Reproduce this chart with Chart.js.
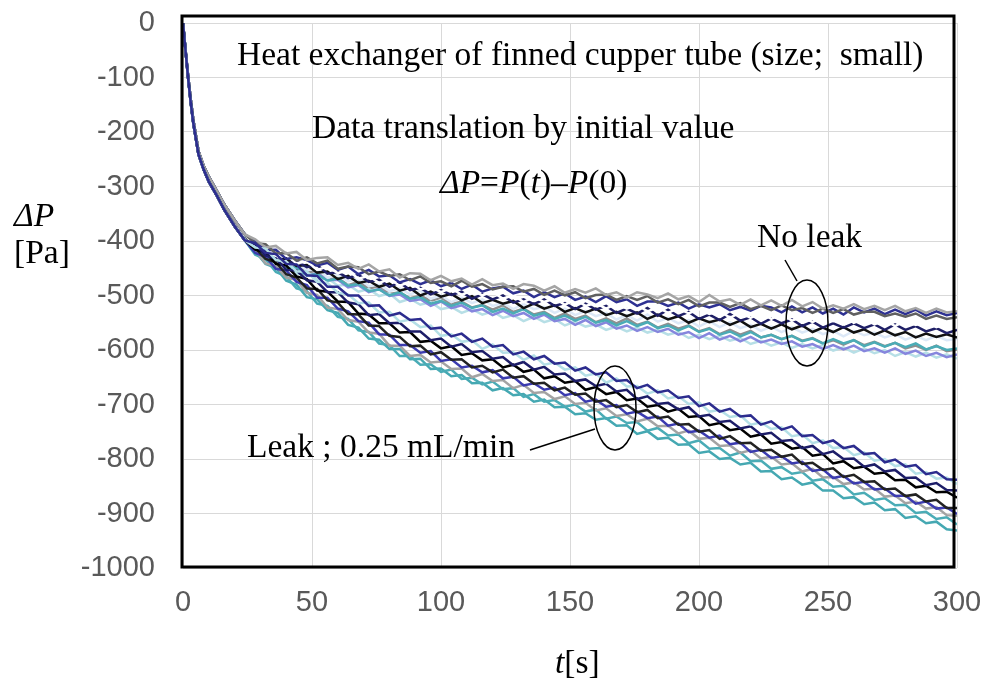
<!DOCTYPE html>
<html>
<head>
<meta charset="utf-8">
<script src="https://cdn.jsdelivr.net/npm/chart.js@4.4.1/dist/chart.umd.min.js"></script>
<style>
  body { margin: 0; background: #fff; }
  #wrap { width: 989px; height: 684px; position: relative; }
</style>
</head>
<body>
<div id="wrap"><canvas id="chart"></canvas></div>
<script>
// time axis [s]
const earlyTimes = [0, 1, 2, 3, 4, 6, 8, 10, 13, 16, 20, 24];
const lateTimes = [
  28, 32, 36, 40, 44, 48, 52, 56, 60, 64,
  68, 72, 76, 80, 84, 88, 92, 96, 100, 104,
  108, 112, 116, 120, 124, 128, 132, 136, 140, 144,
  148, 152, 156, 160, 164, 168, 172, 176, 180, 184,
  188, 192, 196, 200, 204, 208, 212, 216, 220, 224,
  228, 232, 236, 240, 244, 248, 252, 256, 260, 264,
  268, 272, 276, 280, 284, 288, 292, 296, 300,
];

// first seconds, runs fall almost together
const earlyNoLeak = [0, -50, -98, -140, -178, -235, -262, -282, -307, -333, -362, -388];
const earlyLeak = [0, -52, -102, -146, -184, -241, -269, -291, -316, -343, -373, -399];

// no leak runs (after 28 s)
const noLeak1 = [
  -397, -412, -409, -423, -420, -435, -431, -430, -444, -440,
  -451, -443, -456, -452, -467, -459, -460, -472, -464, -474,
  -469, -480, -470, -481, -478, -488, -479, -482, -491, -483,
  -495, -488, -495, -487, -499, -494, -504, -494, -498, -505,
  -496, -507, -501, -512, -499, -511, -507, -517, -507, -518,
  -509, -519, -508, -520, -512, -524, -518, -524, -516, -525,
  -519, -527, -519, -529, -523, -532, -524, -531, -529,
];
const noLeak2 = [
  -404, -406, -423, -422, -436, -430, -441, -436, -451, -447,
  -448, -461, -456, -464, -461, -472, -465, -477, -474, -483,
  -473, -484, -479, -489, -484, -483, -493, -488, -499, -491,
  -500, -494, -505, -499, -498, -508, -501, -508, -501, -513,
  -507, -516, -508, -520, -513, -513, -521, -514, -525, -519,
  -527, -518, -527, -523, -532, -524, -532, -525, -535, -530,
  -530, -538, -533, -539, -533, -543, -537, -543, -540,
];
const noLeak3 = [
  -401, -417, -416, -433, -430, -435, -445, -440, -453, -447,
  -461, -453, -465, -463, -476, -470, -479, -472, -483, -477,
  -488, -480, -493, -487, -484, -496, -491, -503, -494, -503,
  -496, -508, -502, -512, -501, -512, -507, -519, -511, -511,
  -519, -513, -524, -516, -522, -516, -527, -521, -528, -519,
  -522, -531, -520, -531, -522, -533, -524, -535, -522, -531,
  -524, -534, -526, -534, -526, -537, -529, -536, -532,
];
const noLeak4 = [
  -410, -411, -430, -425, -441, -437, -453, -447, -459, -454,
  -469, -464, -477, -470, -482, -475, -489, -484, -494, -486,
  -499, -490, -500, -493, -506, -499, -512, -502, -512, -505,
  -517, -507, -519, -514, -524, -515, -524, -517, -529, -522,
  -532, -523, -533, -525, -534, -528, -541, -531, -541, -532,
  -543, -534, -546, -539, -549, -539, -547, -538, -550, -542,
  -553, -545, -556, -546, -554, -548, -558, -551, -557,
];
const noLeak5 = [
  -405, -424, -425, -441, -437, -448, -444, -460, -457, -468,
  -462, -475, -471, -484, -476, -490, -486, -498, -490, -499,
  -493, -506, -498, -507, -500, -513, -507, -516, -507, -519,
  -514, -525, -515, -526, -519, -532, -524, -533, -523, -537,
  -526, -538, -530, -543, -535, -545, -534, -546, -540, -552,
  -542, -551, -544, -556, -548, -559, -551, -559, -551, -560,
  -553, -563, -553, -563, -556, -566, -560, -569, -563,
];
const noLeak6 = [
  -415, -418, -436, -432, -446, -444, -458, -456, -470, -464,
  -477, -473, -484, -478, -491, -486, -500, -493, -502, -497,
  -509, -501, -514, -508, -515, -510, -523, -515, -524, -518,
  -530, -523, -531, -524, -536, -530, -538, -531, -543, -535,
  -544, -538, -550, -542, -549, -544, -554, -546, -558, -552,
  -561, -553, -562, -555, -567, -559, -567, -558, -568, -562,
  -572, -564, -573, -567, -577, -570, -576, -571, -577,
];
const noLeak7 = [
  -408, -426, -428, -446, -441, -453, -452, -467, -461, -474,
  -469, -483, -480, -492, -487, -498, -491, -506, -500, -512,
  -504, -514, -507, -519, -514, -525, -516, -525, -521, -532,
  -524, -536, -528, -538, -532, -544, -536, -546, -535, -548,
  -541, -551, -545, -557, -547, -558, -549, -560, -554, -565,
  -557, -567, -558, -568, -561, -571, -565, -575, -565, -573,
  -568, -577, -571, -581, -574, -582, -574, -582, -580,
];
const noLeak8 = [
  -415, -433, -433, -449, -448, -463, -461, -473, -469, -482,
  -479, -492, -489, -500, -494, -506, -503, -515, -510, -519,
  -513, -523, -518, -530, -524, -533, -525, -537, -532, -543,
  -537, -546, -539, -550, -545, -555, -547, -556, -549, -560,
  -555, -564, -556, -567, -561, -572, -566, -575, -567, -577,
  -572, -580, -574, -584, -579, -588, -580, -588, -582, -593,
  -586, -594, -587, -595, -588, -599, -593, -600, -597,
];
const noLeak9 = [
  -411, -431, -431, -448, -448, -464, -459, -472, -471, -485,
  -481, -494, -488, -501, -498, -510, -507, -519, -511, -523,
  -518, -529, -525, -536, -528, -538, -532, -543, -535, -547,
  -543, -554, -545, -556, -549, -561, -555, -565, -558, -567,
  -561, -572, -567, -578, -569, -581, -574, -584, -576, -586,
  -581, -589, -584, -594, -589, -598, -591, -599, -592, -602,
  -597, -605, -597, -607, -601, -611, -605, -613, -608,
];
const noLeak10 = [
  -423, -426, -445, -443, -461, -459, -471, -468, -482, -480,
  -493, -488, -501, -496, -512, -506, -517, -512, -525, -521,
  -532, -525, -535, -529, -541, -536, -547, -539, -549, -543,
  -555, -548, -557, -553, -563, -557, -566, -559, -568, -563,
  -572, -567, -578, -572, -580, -574, -583, -578, -589, -583,
  -592, -586, -596, -589, -597, -591, -601, -595, -605, -597,
  -606, -600, -611, -604, -612, -605, -614, -608, -616,
];
const noLeak11 = [
  -409, -430, -432, -448, -445, -458, -454, -470, -468, -481,
  -475, -487, -483, -497, -494, -505, -500, -510, -504, -516,
  -511, -522, -517, -526, -518, -530, -524, -535, -530, -541,
  -533, -543, -537, -549, -542, -551, -542, -554, -548, -559,
  -552, -561, -555, -566, -560, -571, -563, -572, -565, -577,
  -572, -580, -574, -583, -578, -588, -582, -590, -582, -591,
  -585, -593, -587, -597, -592, -600, -592, -602, -599,
];

// leak 0.25 mL/min runs (after 28 s)
const leak1 = [
  -404, -422, -424, -442, -443, -463, -464, -484, -484, -500,
  -500, -519, -518, -537, -532, -545, -543, -561, -559, -575,
  -570, -585, -579, -594, -591, -608, -603, -617, -611, -625,
  -623, -638, -632, -645, -641, -657, -655, -670, -664, -678,
  -674, -688, -685, -703, -698, -713, -708, -722, -720, -737,
  -731, -746, -740, -758, -756, -771, -766, -780, -776, -791,
  -789, -806, -801, -814, -811, -828, -824, -837, -838,
];
const leak2 = [
  -412, -414, -435, -438, -456, -456, -475, -477, -495, -498,
  -514, -513, -531, -530, -548, -544, -558, -555, -574, -571,
  -585, -582, -598, -590, -605, -604, -618, -610, -627, -623,
  -636, -632, -647, -643, -660, -652, -667, -666, -680, -674,
  -689, -685, -699, -696, -713, -710, -723, -720, -737, -733,
  -745, -742, -758, -755, -771, -766, -780, -778, -793, -788,
  -803, -800, -813, -810, -827, -824, -836, -834, -846,
];
const leak3 = [
  -406, -427, -432, -453, -454, -472, -475, -494, -494, -513,
  -516, -536, -534, -551, -550, -566, -566, -582, -579, -594,
  -589, -604, -602, -616, -613, -628, -622, -636, -631, -645,
  -643, -657, -654, -666, -662, -676, -673, -690, -685, -699,
  -697, -709, -705, -722, -719, -732, -730, -744, -740, -755,
  -752, -767, -765, -780, -776, -791, -786, -800, -799, -814,
  -810, -823, -820, -835, -834, -848, -844, -857, -858,
];
const leak4 = [
  -416, -421, -442, -445, -465, -470, -491, -493, -511, -512,
  -533, -535, -551, -551, -568, -567, -585, -583, -597, -593,
  -609, -606, -619, -617, -632, -627, -640, -636, -652, -648,
  -660, -657, -673, -668, -681, -677, -692, -689, -704, -701,
  -713, -708, -723, -721, -738, -734, -747, -744, -759, -755,
  -772, -769, -781, -778, -794, -791, -808, -804, -817, -814,
  -827, -825, -839, -838, -852, -849, -861, -860, -871,
];
const leak5 = [
  -413, -433, -439, -461, -467, -487, -488, -509, -513, -534,
  -535, -555, -556, -574, -576, -593, -592, -608, -604, -618,
  -617, -632, -629, -641, -636, -651, -648, -662, -660, -674,
  -669, -682, -680, -695, -692, -705, -701, -714, -710, -725,
  -722, -737, -736, -750, -747, -763, -758, -771, -770, -785,
  -783, -796, -792, -809, -807, -820, -817, -833, -829, -842,
  -841, -856, -854, -868, -865, -878, -875, -890, -890,
];
const leak6 = [
  -422, -429, -451, -454, -475, -481, -504, -504, -524, -529,
  -547, -550, -571, -572, -591, -591, -605, -602, -620, -617,
  -632, -629, -641, -637, -652, -649, -665, -661, -673, -669,
  -683, -679, -695, -691, -704, -701, -717, -713, -725, -722,
  -739, -735, -751, -748, -761, -757, -773, -770, -787, -783,
  -798, -795, -808, -805, -822, -819, -835, -831, -845, -842,
  -856, -854, -868, -867, -882, -878, -891, -889, -901,
];
const leak7 = [
  -417, -441, -446, -467, -471, -495, -499, -522, -525, -545,
  -548, -568, -570, -592, -592, -611, -609, -623, -621, -635,
  -634, -650, -644, -657, -655, -670, -664, -679, -677, -690,
  -685, -699, -697, -711, -707, -721, -718, -731, -726, -740,
  -739, -753, -748, -763, -761, -776, -775, -789, -784, -799,
  -796, -810, -808, -823, -818, -834, -833, -846, -843, -856,
  -854, -869, -867, -881, -878, -891, -888, -903, -904,
];
const leak8 = [
  -425, -433, -457, -465, -487, -492, -515, -519, -539, -543,
  -564, -567, -588, -591, -611, -611, -627, -626, -640, -636,
  -653, -651, -663, -658, -672, -670, -686, -681, -695, -692,
  -704, -700, -713, -709, -726, -722, -734, -732, -748, -743,
  -757, -755, -771, -766, -781, -780, -794, -788, -804, -803,
  -818, -815, -827, -824, -840, -837, -851, -849, -865, -862,
  -875, -872, -885, -884, -899, -897, -910, -907, -920,
];
const leak9 = [
  -419, -442, -449, -473, -480, -503, -507, -527, -532, -554,
  -559, -579, -581, -598, -598, -617, -616, -635, -634, -648,
  -646, -661, -660, -674, -670, -683, -681, -695, -691, -705,
  -704, -718, -716, -728, -725, -739, -738, -754, -749, -763,
  -761, -774, -773, -789, -786, -800, -798, -810, -807, -823,
  -822, -837, -834, -847, -843, -858, -858, -872, -870, -883,
  -880, -894, -892, -908, -905, -918, -915, -929, -931,
];

const noLeakRuns = [noLeak1, noLeak2, noLeak3, noLeak4, noLeak5, noLeak6, noLeak7, noLeak8, noLeak9, noLeak10, noLeak11];
const noLeakColors = ["#a5a5a5", "#606060", "#2e3192", "#ffffff", "#1f1f66", "#111111", "#dce8f7", "#4bacb6", "#8686dd", "#b7dfe6", "#8f8f8f"];
const leakRuns = [leak1, leak2, leak3, leak4, leak5, leak6, leak7, leak8, leak9];
const leakColors = ["#2c2c8e", "#b4dfe6", "#1d1d68", "#000000", "#222222", "#3b3bb0", "#a3a3a3", "#4aacb6", "#45a8b2"];

const times = earlyTimes.concat(lateTimes);

function makeDataset(start, run, color) {
  const values = start.concat(run);
  return {
    data: times.map((t, i) => ({ x: t, y: values[i] })),
    borderColor: color,
    borderWidth: 2.5,
    pointRadius: 0,
    tension: 0,
    fill: false,
  };
}

const datasets = [];
leakRuns.forEach((run, i) => datasets.push(makeDataset(earlyLeak, run, leakColors[i])));
noLeakRuns.forEach((run, i) => datasets.push(makeDataset(earlyNoLeak, run, noLeakColors[i])));

// draw text segments one after another, some italic
function drawSegments(ctx, x, y, parts, size) {
  let cx = x;
  parts.forEach((p) => {
    ctx.font = (p[1] ? "italic " : "") + size + "px 'Liberation Serif', 'Times New Roman', serif";
    ctx.fillText(p[0], cx, y);
    cx += ctx.measureText(p[0]).width;
  });
}

// frame, notes, ellipses and axis titles
const notesPlugin = {
  id: "notes",
  afterDraw(chart) {
    const ctx = chart.ctx;
    const a = chart.chartArea;
    ctx.save();
    ctx.strokeStyle = "#000";
    ctx.lineWidth = 3;
    ctx.strokeRect(a.left - 1, a.top - 7, a.right - a.left - 2, a.bottom - a.top + 6);

    ctx.fillStyle = "#000";
    ctx.textAlign = "left";
    ctx.textBaseline = "alphabetic";
    const fs = 33.5;
    drawSegments(ctx, 237, 65, [["Heat exchanger of finned cupper tube (size;  small)", false]], fs);
    drawSegments(ctx, 312, 138, [["Data translation by initial value", false]], fs);
    drawSegments(ctx, 440, 193, [["\u0394P", true], ["=", false], ["P", true], ["(", false], ["t", true], [")\u2013", false], ["P", true], ["(0)", false]], fs);
    drawSegments(ctx, 757, 247, [["No leak", false]], fs);
    drawSegments(ctx, 247, 457, [["Leak ; 0.25 mL/min", false]], fs);

    drawSegments(ctx, 14, 226, [["\u0394P", true]], fs);
    drawSegments(ctx, 14, 263, [["[Pa]", false]], fs);
    drawSegments(ctx, 555, 673, [["t", true], ["[s]", false]], fs);

    ctx.lineWidth = 1.5;
    ctx.beginPath();
    ctx.ellipse(807, 323, 21, 43, 0, 0, Math.PI * 2);
    ctx.stroke();
    ctx.beginPath();
    ctx.moveTo(785, 260);
    ctx.lineTo(797, 281);
    ctx.stroke();
    ctx.beginPath();
    ctx.ellipse(615, 408, 21, 42, 0, 0, Math.PI * 2);
    ctx.stroke();
    ctx.beginPath();
    ctx.moveTo(530, 450);
    ctx.lineTo(595, 429);
    ctx.stroke();
    ctx.restore();
  },
};

const tickFont = { family: "'Liberation Sans', Arial, sans-serif", size: 29 };

new Chart(document.getElementById("chart"), {
  type: "line",
  data: { datasets: datasets },
  plugins: [notesPlugin],
  options: {
    responsive: true,
    maintainAspectRatio: false,
    animation: false,
    layout: { padding: { top: 23, right: 32, left: 0, bottom: 0 } },
    plugins: { legend: { display: false }, tooltip: { enabled: false } },
    scales: {
      x: {
        type: "linear",
        min: 0,
        max: 300,
        ticks: { stepSize: 50, font: tickFont, color: "#595959", padding: 18, maxRotation: 0 },
        grid: { color: "#d9d9d9", drawTicks: false },
        border: { display: false },
        afterFit(scale) {
          scale.height = 116;
          scale.paddingLeft = 0;
          scale.paddingRight = 0;
        },
      },
      y: {
        min: -1000,
        max: 0,
        ticks: {
          stepSize: 100, font: tickFont, color: "#595959", padding: 28,
          callback: (v) => String(v),
        },
        grid: { color: "#d9d9d9", drawTicks: false },
        border: { display: false },
        afterFit(scale) {
          scale.width = 183;
          scale.paddingTop = 0;
          scale.paddingBottom = 0;
        },
      },
    },
  },
});
</script>
</body>
</html>
